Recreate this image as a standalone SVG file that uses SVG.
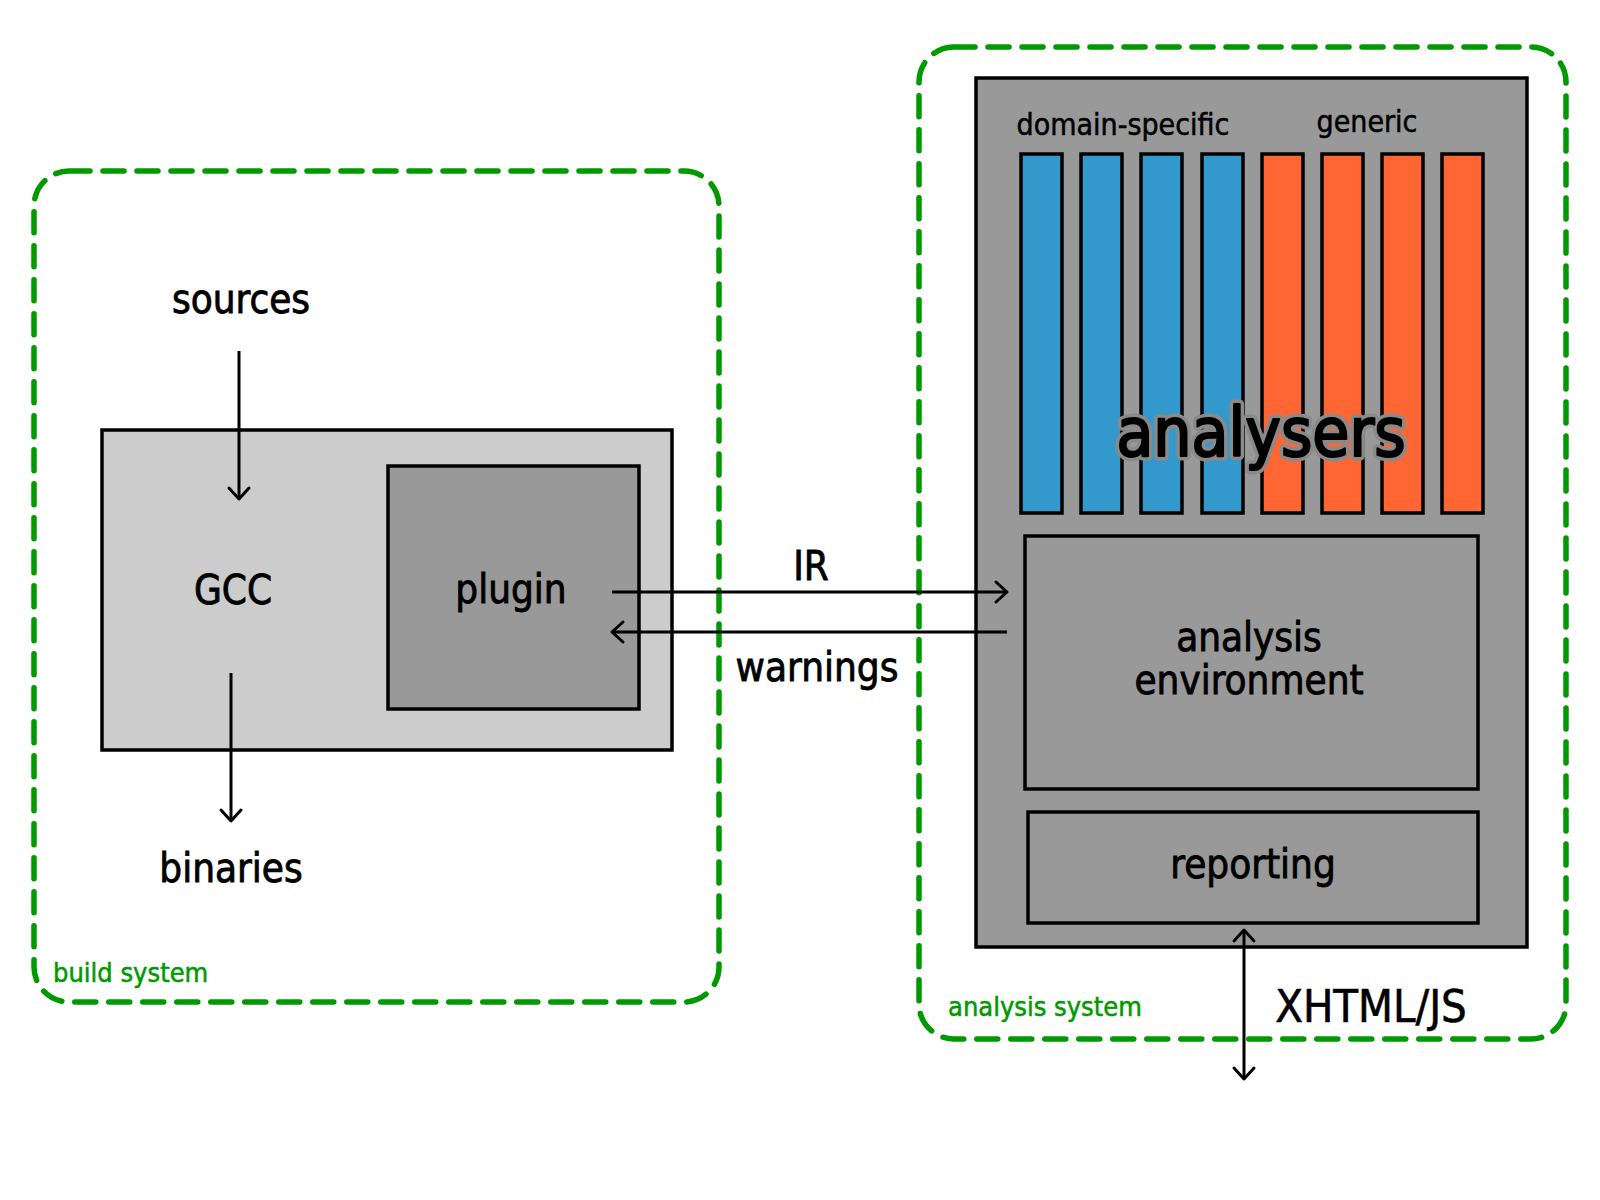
<svg xmlns="http://www.w3.org/2000/svg" width="1600" height="1200" viewBox="0 0 1600 1200">
<style>
text{font-family:"DejaVu Sans Condensed","DejaVu Sans",sans-serif;fill:#000}
.lbl{font-size:40px;text-anchor:middle;stroke:#000;stroke-width:0.8}
.sys{fill:none;stroke:#009900;stroke-width:5.5;stroke-dasharray:21 13;stroke-linecap:round}
.systxt{font-size:27px;fill:#009900;stroke:#009900;stroke-width:0.5}
.box{stroke:#000;stroke-width:3.5}
.bar{stroke:#000;stroke-width:3.5}
.blue{fill:#3399cc}
.orange{fill:#ff6633}
.conn{stroke:#000;stroke-width:3;fill:none}
</style>
<defs>
<marker id="head" markerUnits="userSpaceOnUse" markerWidth="30" markerHeight="30" viewBox="-15 -15 30 30" refX="0" refY="0" orient="auto-start-reverse">
<path d="M -11 -10 L 0 0 L -11 10" fill="none" stroke="#000" stroke-width="3" stroke-linecap="round" stroke-linejoin="round"/>
</marker>
</defs>
<rect width="1600" height="1200" fill="#fff"/>

<g id="build-system">
<rect class="sys" x="34" y="171" width="685" height="831" rx="35"/>
<text class="systxt" x="53" y="982">build system</text>
</g>

<g id="analysis-system">
<rect class="sys" x="919" y="47" width="647" height="992" rx="35"/>
<text class="systxt" x="948" y="1016">analysis system</text>
</g>

<g id="gcc">
<rect class="box" x="102" y="430" width="570" height="320" fill="#cccccc"/>
<text class="lbl" x="233" y="604">GCC</text>
</g>

<g id="plugin">
<rect class="box" x="388" y="466" width="251" height="243" fill="#999999"/>
<text class="lbl" x="511" y="603">plugin</text>
</g>

<g id="sources"><text class="lbl" x="241" y="313">sources</text></g>
<g id="binaries"><text class="lbl" x="231" y="882">binaries</text></g>

<g id="analysers">
<rect class="box" x="976" y="78" width="551" height="869" fill="#999999"/>
<text x="1123" y="135" font-size="30" text-anchor="middle" stroke="#000" stroke-width="0.5">domain-specific</text>
<text x="1367" y="132" font-size="30" text-anchor="middle" stroke="#000" stroke-width="0.5">generic</text>
<rect class="bar blue" x="1021" y="154" width="41" height="359"/>
<rect class="bar blue" x="1081" y="154" width="41" height="359"/>
<rect class="bar blue" x="1141" y="154" width="41" height="359"/>
<rect class="bar blue" x="1202" y="154" width="41" height="359"/>
<rect class="bar orange" x="1262" y="154" width="41" height="359"/>
<rect class="bar orange" x="1322" y="154" width="41" height="359"/>
<rect class="bar orange" x="1382" y="154" width="41" height="359"/>
<rect class="bar orange" x="1442" y="154" width="41" height="359"/>
<text x="1261" y="456" font-size="67" text-anchor="middle" stroke="#8a8a8a" stroke-width="9" stroke-linejoin="round">analysers</text>
<text x="1261" y="456" font-size="67" text-anchor="middle" stroke="#000" stroke-width="2.2" stroke-linejoin="round">analysers</text>
</g>

<g id="analysis-environment">
<rect class="box" x="1025" y="536" width="453" height="253" fill="#999999"/>
<text class="lbl" x="1249" y="651">analysis</text>
<text class="lbl" x="1249" y="694">environment</text>
</g>

<g id="reporting">
<rect class="box" x="1028" y="812" width="450" height="111" fill="#999999"/>
<text class="lbl" x="1253" y="878">reporting</text>
</g>

<g id="connectors">
<line class="conn" x1="239" y1="351" x2="239" y2="499" marker-end="url(#head)"/>
<line class="conn" x1="231" y1="673" x2="231" y2="821" marker-end="url(#head)"/>
<line class="conn" x1="612" y1="592" x2="1007" y2="592" marker-end="url(#head)"/>
<line class="conn" x1="1007" y1="632" x2="612" y2="632" marker-end="url(#head)"/>
<line class="conn" x1="1244" y1="930" x2="1244" y2="1079" marker-start="url(#head)" marker-end="url(#head)"/>
<text class="lbl" x="811" y="580">IR</text>
<text class="lbl" x="817" y="681">warnings</text>
<text x="1371" y="1022" font-size="45" text-anchor="middle" stroke="#000" stroke-width="0.6">XHTML/JS</text>
</g>
</svg>
